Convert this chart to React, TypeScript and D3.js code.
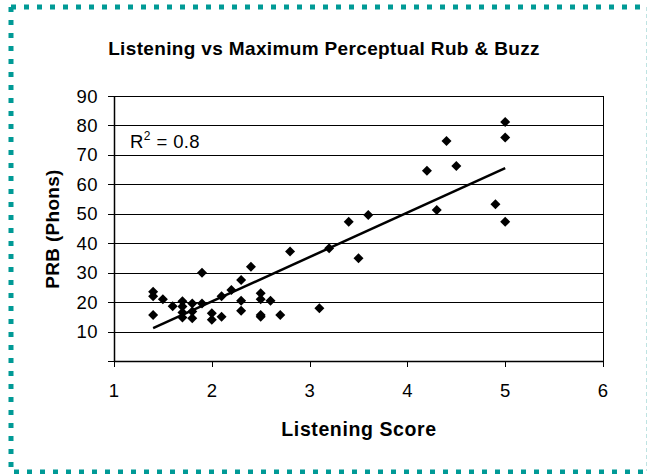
import React from "react";
import * as d3 from "d3";

const listeningScore = [
  1.4, 1.4, 1.4, 1.5, 1.6, 1.7, 1.7, 1.7, 1.7, 1.8, 1.8, 1.8, 1.9, 1.9, 2.0, 2.0,
  2.1, 2.1, 2.2, 2.3, 2.3, 2.3, 2.4, 2.5, 2.5, 2.5, 2.5, 2.6, 2.7, 2.8, 3.1, 3.2,
  3.4, 3.5, 3.6, 4.2, 4.3, 4.4, 4.5, 4.9, 5.0, 5.0, 5.0,
];
const prbPhons = [
  23.5, 22, 15.6, 21, 18.6, 20.3, 18.5, 16.5, 14.8, 19.5, 16.8, 14.5, 30, 19.5, 16.2, 14,
  15, 22, 24.1, 27.5, 20.5, 17.1, 32, 23, 21, 15.6, 15, 20.5, 15.6, 37.2, 17.9, 38.3,
  47.3, 34.9, 49.6, 64.6, 51.3, 74.7, 66.2, 53.2, 47.3, 75.9, 81.2,
];
const xTicks = [1, 2, 3, 4, 5, 6];
const yTicks = [10, 20, 30, 40, 50, 60, 70, 80, 90];
const title = "Listening vs Maximum Perceptual Rub & Buzz";
const xLabel = "Listening Score";
const yLabel = "PRB (Phons)";
const rSquaredText = "0.8";

export default function App() {
  const W = 648, H = 474;
  const left = 114, right = 603, top = 96, bottom = 361;
  const x = d3.scaleLinear().domain([1, 6]).range([left, right]);
  const y = d3.scaleLinear().domain([0, 90]).range([bottom, top]);

  const n = listeningScore.length;
  const mx = d3.mean(listeningScore)!;
  const my = d3.mean(prbPhons)!;
  let sxy = 0, sxx = 0;
  for (let i = 0; i < n; i++) {
    sxy += (listeningScore[i] - mx) * (prbPhons[i] - my);
    sxx += (listeningScore[i] - mx) ** 2;
  }
  const slope = sxy / sxx;
  const intercept = my - slope * mx;
  const [xmin, xmax] = d3.extent(listeningScore) as [number, number];
  const trend = d3.line<number>().x((d) => x(d)).y((d) => y(intercept + slope * d))([xmin, xmax]);

  const diamond = "M0,-5L5,0L0,5L-5,0Z";
  const font = "'Liberation Sans', Arial, sans-serif";
  const teal = "#009a96";

  return (
    <svg width={W} height={H} style={{ position: "absolute", left: 0, top: 0, background: "#fff" }} fontFamily={font}>
      {/* border */}
      <line x1={11} y1={7} x2={645} y2={7} stroke={teal} strokeWidth={5} strokeDasharray="5,8" />
      <line x1={11} y1={7} x2={11} y2={471} stroke={teal} strokeWidth={5} strokeDasharray="5,8" />
      <line x1={14} y1={472} x2={645} y2={472} stroke={teal} strokeWidth={5} strokeDasharray="5,8" />
      <line x1={646.5} y1={7} x2={646.5} y2={471} stroke="#bfe3e2" strokeWidth={1} strokeDasharray="4,3" />

      <text x={324} y={55} textAnchor="middle" fontWeight="bold" fontSize={19} letterSpacing={0.35}>{title}</text>

      {/* grid */}
      {yTicks.map((t) => (
        <line key={"g" + t} x1={left} x2={right} y1={Math.round(y(t)) + 0.5} y2={Math.round(y(t)) + 0.5} stroke="#000" strokeWidth={1} />
      ))}
      <line x1={right + 0.5} x2={right + 0.5} y1={top} y2={bottom} stroke="#000" />
      {/* axes */}
      <line x1={left + 0.5} x2={left + 0.5} y1={top} y2={bottom + 1} stroke="#000" strokeWidth={1.5} />
      <line x1={left} x2={right + 1} y1={bottom + 0.5} y2={bottom + 0.5} stroke="#000" strokeWidth={1.5} />
      {[0, ...yTicks].map((t) => (
        <line key={"yt" + t} x1={left - 6} x2={left} y1={Math.round(y(t)) + 0.5} y2={Math.round(y(t)) + 0.5} stroke="#000" />
      ))}
      {yTicks.map((t) => (
        <text key={"yl" + t} x={98} y={y(t) + 6.5} textAnchor="end" fontSize={18.5} letterSpacing={0.5}>{t}</text>
      ))}
      {xTicks.map((t) => (
        <line key={"xt" + t} x1={Math.round(x(t)) + 0.5} x2={Math.round(x(t)) + 0.5} y1={bottom} y2={bottom + 6} stroke="#000" />
      ))}
      {xTicks.map((t) => (
        <text key={"xl" + t} x={x(t)} y={397} textAnchor="middle" fontSize={18.5}>{t}</text>
      ))}

      <text x={359} y={436} textAnchor="middle" fontWeight="bold" fontSize={19.5} letterSpacing={0.6}>{xLabel}</text>
      <text transform={`translate(59,229) rotate(-90)`} textAnchor="middle" fontWeight="bold" fontSize={19} letterSpacing={0.3}>{yLabel}</text>

      <text x={130} y={148} fontSize={18.5} letterSpacing={0.4}>
        R<tspan dy={-8} fontSize={12}>2</tspan><tspan dy={8}> = {rSquaredText}</tspan>
      </text>

      {/* points */}
      {listeningScore.map((v, i) => (
        <path key={"p" + i} d={diamond} transform={`translate(${x(v)},${y(prbPhons[i])})`} fill="#000" />
      ))}
      <path d={trend ?? ""} stroke="#000" strokeWidth={2.5} fill="none" />
    </svg>
  );
}
